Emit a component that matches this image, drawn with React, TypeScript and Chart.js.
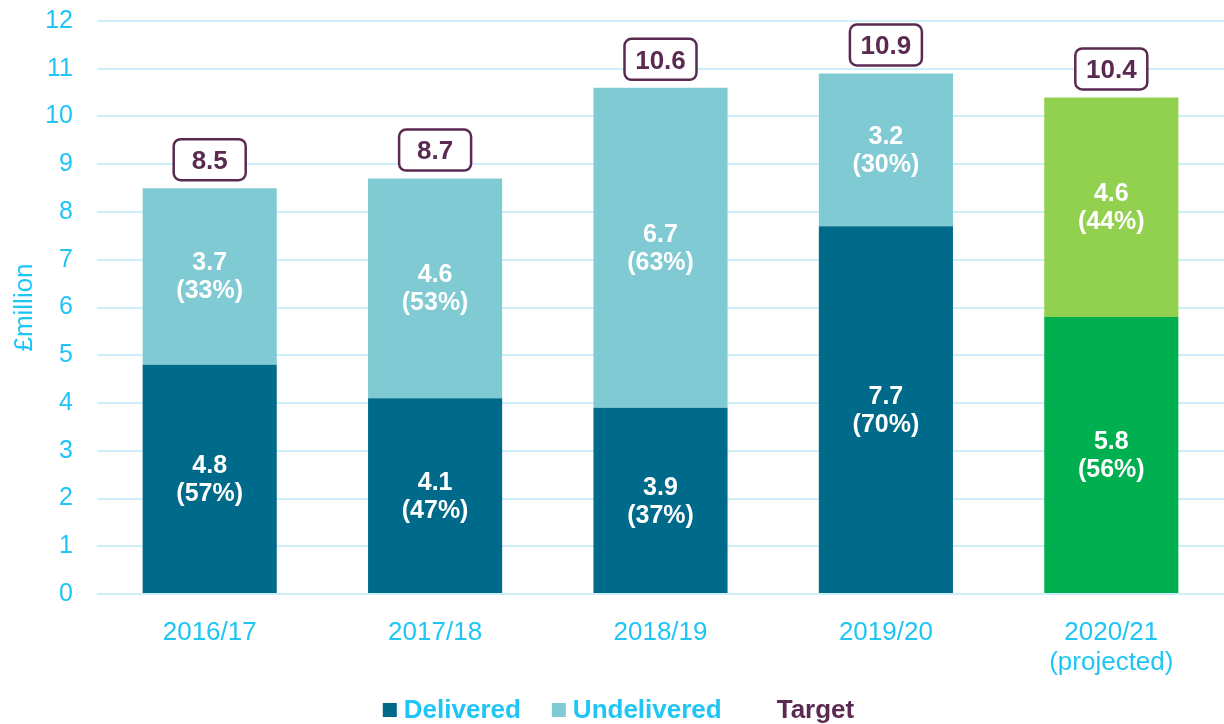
import React, { useEffect, useRef } from "react";
import { Chart, registerables } from "chart.js";

Chart.register(...registerables);

const categories: (string | string[])[] = ["2016/17", "2017/18", "2018/19", "2019/20", ["2020/21", "(projected)"]];
const delivered = [4.8, 4.1, 3.9, 7.7, 5.8];
const deliveredPct = ["57%", "47%", "37%", "70%", "56%"];
const undelivered = [3.7, 4.6, 6.7, 3.2, 4.6];
const undeliveredPct = ["33%", "53%", "63%", "30%", "44%"];
const target = [8.5, 8.7, 10.6, 10.9, 10.4];
const yTicks = [0, 1, 2, 3, 4, 5, 6, 7, 8, 9, 10, 11, 12];

const CYAN = "#1EC5F5";
const PURPLE = "#5B2A50";
const DARK = "#006A8A";
const LIGHT = "#80CAD3";
const GREEN = "#00B050";
const LGREEN = "#92D050";
const GRID = "#CDEFFA";
const FONT = '"Liberation Sans", Arial, sans-serif';

const segmentLabels = {
  id: "segmentLabels",
  afterDatasetsDraw(chart: any) {
    const ctx = chart.ctx;
    const y = chart.scales.y;
    ctx.save();
    ctx.font = `bold 25px ${FONT}`;
    ctx.textAlign = "center";
    ctx.textBaseline = "middle";
    ctx.fillStyle = "#FFFFFF";
    [0, 1].forEach((di) => {
      const meta = chart.getDatasetMeta(di);
      const vals = di === 0 ? delivered : undelivered;
      const pcts = di === 0 ? deliveredPct : undeliveredPct;
      meta.data.forEach((bar: any, i: number) => {
        const base = di === 0 ? 0 : delivered[i];
        const mid = y.getPixelForValue(base + vals[i] / 2);
        ctx.fillText(vals[i].toFixed(1), bar.x, mid - 13);
        ctx.fillText(`(${pcts[i]})`, bar.x, mid + 15);
      });
    });
    const meta = chart.getDatasetMeta(2);
    ctx.font = `bold 26px ${FONT}`;
    meta.data.forEach((pt: any, i: number) => {
      const txt = target[i].toFixed(1);
      const w = 72;
      const h = 41;
      const top = y.getPixelForValue(target[i]);
      const bx = pt.x - w / 2;
      const by = top - 8 - h;
      ctx.beginPath();
      ctx.roundRect(bx, by, w, h, 7);
      ctx.fillStyle = "#FFFFFF";
      ctx.fill();
      ctx.lineWidth = 2.5;
      ctx.strokeStyle = PURPLE;
      ctx.stroke();
      ctx.fillStyle = PURPLE;
      ctx.fillText(txt, pt.x, by + h / 2 + 2);
    });
    ctx.restore();
  },
};

const customLegend = {
  id: "customLegend",
  afterDraw(chart: any) {
    const ctx = chart.ctx;
    ctx.save();
    ctx.font = `bold 26px ${FONT}`;
    ctx.textBaseline = "middle";
    ctx.textAlign = "left";
    const items = [
      { text: "Delivered", box: DARK, color: CYAN },
      { text: "Undelivered", box: LIGHT, color: CYAN },
      { text: "Target", box: null, color: PURPLE },
    ];
    const boxW = 14;
    const gap = 7;
    const pad = 31;
    const extra = 24;
    const widths = items.map((it) => boxW + gap + ctx.measureText(it.text).width);
    const total = widths.reduce((a, b) => a + b, 0) + pad * (items.length - 1) + extra - boxW - gap;
    let x = 618.5 - total / 2;
    const cy = 710;
    items.forEach((it, i) => {
      if (it.box) {
        ctx.fillStyle = it.box;
        ctx.fillRect(x, cy - 7, boxW, boxW);
        ctx.fillStyle = it.color;
        ctx.fillText(it.text, x + boxW + gap, cy + 1);
        x += widths[i] + pad;
      } else {
        ctx.fillStyle = it.color;
        ctx.fillText(it.text, x + extra, cy + 1);
      }
    });
    ctx.restore();
  },
};

export default function App() {
  const ref = useRef<HTMLCanvasElement>(null);
  useEffect(() => {
    document.body.style.margin = "0";
    let chart: any = null;
    let cancelled = false;
    const loads = (document as any).fonts
      ? Promise.all([
          (document as any).fonts.load('26px "Liberation Sans"'),
          (document as any).fonts.load('bold 26px "Liberation Sans"'),
        ]).catch(() => null)
      : Promise.resolve(null);
    loads.then(() => {
      if (cancelled || !ref.current) return;
      chart = new Chart(ref.current as HTMLCanvasElement, {
        type: "bar",
        data: {
          labels: categories,
          datasets: [
            {
              label: "Delivered",
              data: delivered,
              backgroundColor: [DARK, DARK, DARK, DARK, GREEN],
              stack: "s",
              categoryPercentage: 1,
              barPercentage: 0.595,
            } as any,
            {
              label: "Undelivered",
              data: undelivered,
              backgroundColor: [LIGHT, LIGHT, LIGHT, LIGHT, LGREEN],
              stack: "s",
              categoryPercentage: 1,
              barPercentage: 0.595,
            } as any,
            {
              type: "line",
              label: "Target",
              data: target,
              showLine: false,
              pointRadius: 0,
              borderColor: PURPLE,
              backgroundColor: PURPLE,
              stack: "t",
            } as any,
          ],
        },
        options: {
          responsive: false,
          animation: false,
          layout: { padding: { top: 21, right: 0, bottom: 30, left: 0 } },
          plugins: {
            legend: { display: false },
            tooltip: { enabled: false },
          },
          scales: {
            x: {
              stacked: true,
              grid: { display: false },
              border: { display: false },
              ticks: {
                color: CYAN,
                font: { family: FONT, size: 26, lineHeight: "30px" } as any,
                padding: 16,
                maxRotation: 0,
              },
              afterFit: (s: any) => {
                s.height = 100;
                s.paddingRight = 0;
              },
            },
            y: {
              stacked: true,
              min: 0,
              max: 12,
              afterBuildTicks: (s: any) => {
                s.ticks = yTicks.map((v) => ({ value: v }));
              },
              grid: { color: GRID, lineWidth: 2, drawTicks: false },
              border: { display: false },
              ticks: {
                color: CYAN,
                font: { family: FONT, size: 25 },
                padding: 24,
              },
              title: {
                display: true,
                text: "£million",
                color: CYAN,
                font: { family: FONT, size: 26 },
                padding: { top: 9, bottom: 0 },
              },
              afterFit: (s: any) => {
                s.width = 97;
                s.paddingTop = 10;
                s.paddingBottom = 10;
              },
            },
          },
        },
        plugins: [segmentLabels, customLegend],
      });
    });
    return () => {
      cancelled = true;
      if (chart) chart.destroy();
    };
  }, []);
  return (
    <div style={{ width: 1224, height: 724 }}>
      <canvas ref={ref} width={1224} height={724} />
    </div>
  );
}
